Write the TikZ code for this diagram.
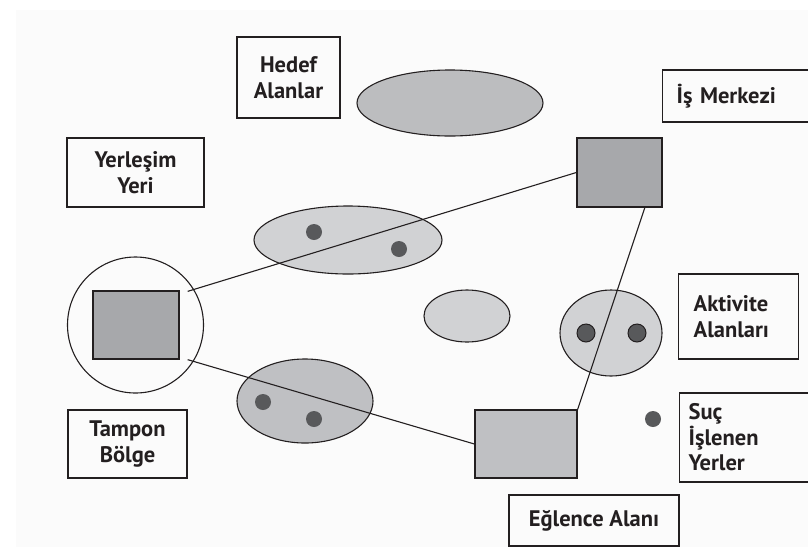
\documentclass[tikz,border=0pt]{standalone}
\usepackage{fontspec}
\setmainfont{PT Sans}
\usetikzlibrary{shapes.geometric,calc}
\definecolor{bgc}{HTML}{FBFBFB}
\definecolor{sqdark}{HTML}{A7A8AB}
\definecolor{sqlight}{HTML}{BFC0C3}
\definecolor{elldark}{HTML}{BCBDBF}
\definecolor{elllight}{HTML}{D1D2D4}
\definecolor{dotc}{HTML}{58595B}
\definecolor{linec}{HTML}{231F20}
\tikzset{
  lbl/.style={draw=linec, line width=1.3pt, fill=bgc, inner ysep=0pt,
    font=\fontsize{22.5}{25.5}\selectfont\bfseries, text=linec},
  zone/.style={ellipse, draw=linec, line width=1.1pt, inner sep=0pt},
  sq/.style={rectangle, draw=linec, line width=1.3pt, inner sep=0pt},
  dot/.style={circle, fill=dotc, inner sep=0pt, minimum size=16pt},
  dotb/.style={circle, fill=dotc, draw=linec, line width=1pt, inner sep=0pt, minimum size=18pt},
  conn/.style={draw=linec, line width=1.1pt}
}
\begin{document}
\begin{tikzpicture}[x=1pt,y=-1pt]
\useasboundingbox (0,0) rectangle (808,547);
\fill[bgc] (16,10) rectangle (808,547);

% label boxes
\node[lbl, minimum width=103pt, minimum height=81pt, align=center] (hedef) at (288.5,77.5) {Hedef\\Alanlar};
\node[lbl, anchor=west, text width=132pt, inner xsep=14pt, minimum height=52pt, align=left] (ismerk) at (662,96) {İş Merkezi};
\node[lbl, minimum width=137pt, minimum height=69pt, align=center] (yerlesim) at (135.5,172.5) {Yerleşim\\Yeri};
\node[lbl, anchor=west, text width=90pt, inner xsep=15pt, minimum height=85pt, align=left] (aktivite) at (678,316.5) {Aktivite\\Alanları};
\node[lbl, anchor=west, text width=125pt, inner xsep=9pt, minimum height=89pt, align=left] (suc) at (679,437.5) {Suç\\İşlenen\\Yerler};
\node[lbl, minimum width=119pt, minimum height=68pt, align=center] (tampon) at (127.5,444) {Tampon\\Bölge};
\node[lbl, minimum width=170pt, minimum height=51pt, align=center] (eglence) at (594,520.5) {Eğlence Alanı};

% zones
\node[zone, fill=elldark, minimum width=186pt, minimum height=66pt] (topell) at (450,103) {};
\node[zone, fill=elllight, minimum width=188pt, minimum height=68pt] (ell1) at (348,240) {};
\node[zone, fill=elllight, minimum width=86pt, minimum height=52pt] (ell2) at (467,316) {};
\node[zone, fill=sqlight, minimum width=136pt, minimum height=84pt] (ell3) at (305,401) {};
\node[zone, fill=elllight, minimum width=102pt, minimum height=86pt] (actell) at (611,333) {};
\node[circle, draw=linec, line width=1.1pt, minimum size=136pt, inner sep=0pt] (buffer) at (135.5,325) {};

% squares
\node[sq, fill=sqdark, minimum width=86pt, minimum height=68pt] (tsq) at (136,325) {};
\node[sq, fill=sqdark, minimum width=85pt, minimum height=69pt] (issq) at (619.5,172.5) {};
\node[sq, fill=sqlight, minimum width=102pt, minimum height=68pt] (egsq) at (526,444) {};

% crime points
\node[dot] (d1) at (314,232) {};
\node[dot] (d2) at (399,249) {};
\node[dot] (d3) at (263,402) {};
\node[dot] (d4) at (314,419) {};
\node[dot] (d5) at (653,419) {};

% connectors
\coordinate (s1) at ($(tsq.north east)+(8,1)$);
\coordinate (s2) at ($(tsq.south east)+(8,0)$);
\coordinate (e3) at (645,207);
\draw[conn] (s1) -- (issq.west);
\draw[conn] (s2) -- (egsq.west);
\draw[conn] (egsq.north east) -- (e3);

\node[dotb] (a1) at (586,333) {};
\node[dotb] (a2) at (637,333) {};
\end{tikzpicture}
\end{document}
